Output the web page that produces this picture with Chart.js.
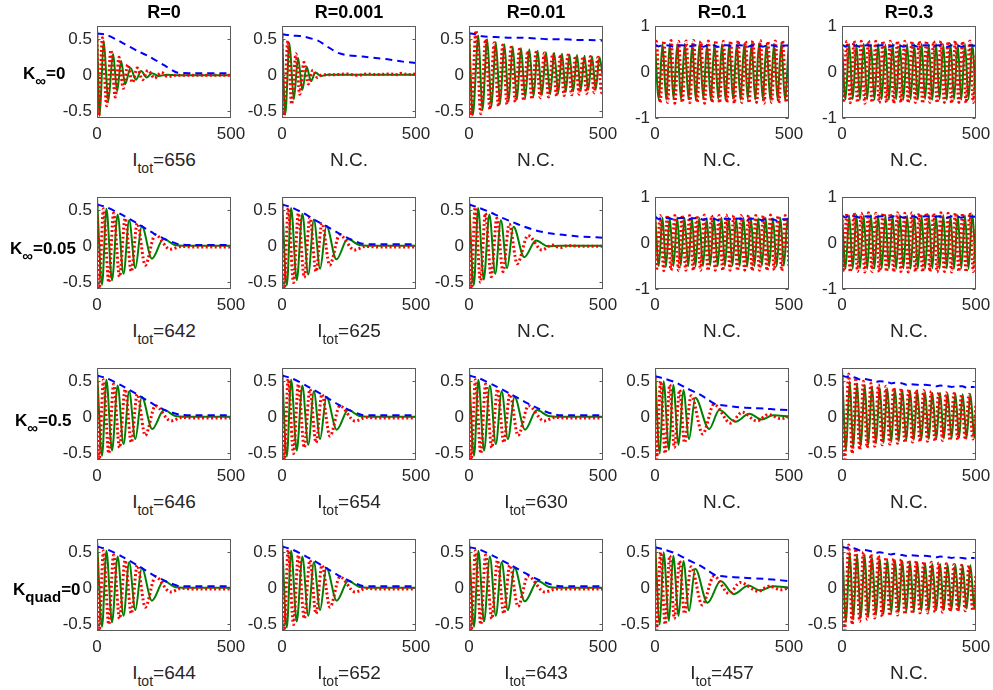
<!DOCTYPE html>
<html>
<head>
<meta charset="utf-8">
<script src="https://cdn.jsdelivr.net/npm/chart.js@4.4.0/dist/chart.umd.min.js"></script>
<style>
body{margin:0;background:#fff;width:993px;height:690px;position:relative;overflow:hidden;font-family:"Liberation Sans",Arial,sans-serif;color:#262626}
.txt{position:absolute;white-space:nowrap;line-height:24px;height:24px}
.ttl{font-weight:bold;font-size:18px;color:#000;transform:translateX(-50%)}
.row{font-weight:bold;font-size:17px;color:#000}
.row span{font-size:15px;position:relative;top:7px}
.bot{font-size:19px;transform:translateX(-50%)}
.bot span{font-size:14px;position:relative;top:7px}
canvas{position:absolute}
</style>
</head>
<body>
<script>
// ---- labels ----
var colTitles = ['R=0','R=0.001','R=0.01','R=0.1','R=0.3'];
var rowNames = [['K','\u221e','=0'],['K','\u221e','=0.05'],['K','\u221e','=0.5'],['K','quad','=0']];
var itotLabels = [
  ['656', null, null, null, null],
  ['642', '625', null, null, null],
  ['646', '654', '630', null, null],
  ['644', '652', '643', '457', null]
];
var xTicks = [0, 500];
var yTicksSmall = [-0.5, 0, 0.5];
var yTicksWide = [-1, 0, 1];
var yRangeSmall = [-0.59, 0.68];
var yRangeWide = [-1, 1];

// ---- row 1 : K_inf = 0 ----
var blue_r1c1 = [[0,0.58],[37,0.56],[100,0.44],[150,0.34],[200,0.25],[250,0.14],[298,0.04],[350,0.03],[500,0.03]];
var green_r1c1 = [[0,0.67],[10,-0.56],[25,0.48],[42,-0.36],[60,0.3],[75,-0.22],[90,0.2],[105,-0.12],[125,0.1],[145,-0.06],[165,0.06],[185,-0.03],[205,0.03],[230,-0.01],[260,0.01],[300,0.0],[500,0.0]];
var red_r1c1 = [[0,0.55],[6,-0.59],[20,0.52],[36,-0.42],[52,0.35],[68,-0.3],[82,0.25],[98,-0.18],[115,0.15],[132,-0.1],[150,0.1],[170,-0.06],[190,0.07],[215,-0.04],[240,0.04],[265,-0.02],[290,0.0],[500,0.0]];

var blue_r1c2 = [[0,0.57],[40,0.55],[78,0.54],[134,0.48],[177,0.38],[210,0.31],[240,0.28],[301,0.26],[350,0.24],[400,0.22],[450,0.19],[500,0.17]];
var green_r1c2 = [[0,0.67],[12,-0.54],[28,0.44],[44,-0.33],[60,0.24],[76,-0.2],[92,0.12],[108,-0.08],[125,0.04],[145,-0.01],[170,0.01],[500,0.01]];
var red_r1c2 = [[0,0.55],[6,-0.59],[22,0.48],[36,-0.4],[52,0.3],[66,-0.26],[82,0.18],[98,-0.12],[115,0.07],[132,-0.03],[150,0.01],[200,0.01],[240,0.02],[280,0.0],[320,0.02],[350,0.01],[400,0.02],[430,0.01],[445,0.03],[470,0.01],[500,0.02]];

var blue_r1c3 = [[0,0.58],[20,0.57],[50,0.54],[100,0.53],[150,0.52],[200,0.52],[250,0.51],[300,0.5],[350,0.5],[400,0.49],[450,0.49],[500,0.48]];
var green_r1c3 = [[0,0.67],[14,-0.55],[35,0.55],[50,-0.48],[68,0.5],[84,-0.43],[100,0.46],[116,-0.39],[132,0.43],[148,-0.36],[163,0.4],[179,-0.33],[194,0.38],[210,-0.31],[225,0.36],[241,-0.29],[256,0.34],[272,-0.27],[287,0.32],[303,-0.26],[318,0.31],[333,-0.24],[347,0.3],[361,-0.23],[375,0.29],[389,-0.22],[403,0.28],[417,-0.21],[431,0.27],[445,-0.2],[459,0.26],[473,-0.19],[487,0.25],[500,-0.05]];
var red_r1c3 = [[0,0.55],[8,-0.59],[26,0.62],[44,-0.53],[62,0.5],[78,-0.47],[94,0.45],[110,-0.43],[126,0.42],[142,-0.4],[157,0.39],[173,-0.37],[188,0.36],[204,-0.35],[219,0.34],[235,-0.33],[250,0.32],[266,-0.31],[281,0.31],[297,-0.3],[312,0.3],[327,-0.29],[341,0.29],[355,-0.28],[369,0.28],[383,-0.27],[397,0.27],[411,-0.26],[425,0.26],[439,-0.25],[453,0.26],[467,-0.24],[481,0.25],[495,-0.24],[500,-0.1]];

var blue_r1c4 = [[0,0.6],[14,0.56],[28,0.59],[55,0.58],[69,0.55],[83,0.58],[111,0.58],[125,0.55],[139,0.58],[166,0.58],[180,0.55],[194,0.58],[222,0.58],[236,0.55],[250,0.58],[277,0.58],[291,0.55],[305,0.58],[333,0.58],[346,0.55],[360,0.58],[388,0.58],[402,0.55],[416,0.58],[444,0.58],[457,0.55],[471,0.58],[500,0.58]];
var green_r1c4 = [[0,0.63],[14,-0.59],[28,0.61],[42,-0.6],[55,0.62],[69,-0.58],[83,0.6],[97,-0.6],[111,0.62],[125,-0.59],[139,0.61],[152,-0.6],[166,0.62],[180,-0.58],[194,0.6],[208,-0.6],[222,0.62],[236,-0.59],[250,0.61],[263,-0.6],[277,0.62],[291,-0.58],[305,0.6],[319,-0.6],[333,0.62],[346,-0.59],[360,0.61],[374,-0.6],[388,0.62],[402,-0.58],[416,0.6],[430,-0.6],[444,0.62],[457,-0.59],[471,0.61],[485,-0.6],[499,0.62]];
var red_r1c4 = [[0,0.56],[5,0.67],[19,-0.67],[33,0.68],[47,-0.66],[60,0.69],[74,-0.68],[88,0.67],[102,-0.66],[116,0.68],[130,-0.67],[144,0.69],[157,-0.66],[171,0.67],[185,-0.68],[199,0.68],[213,-0.66],[227,0.69],[241,-0.67],[255,0.67],[268,-0.66],[282,0.68],[296,-0.68],[310,0.69],[324,-0.66],[338,0.67],[351,-0.67],[365,0.68],[379,-0.66],[393,0.69],[407,-0.68],[421,0.67],[435,-0.66],[449,0.68],[462,-0.67],[476,0.69],[490,-0.66],[500,0.3]];

var blue_r1c5 = [[0,0.6],[13,0.56],[27,0.59],[54,0.58],[67,0.55],[81,0.58],[108,0.58],[121,0.55],[135,0.58],[162,0.58],[175,0.55],[189,0.58],[216,0.58],[229,0.55],[243,0.58],[270,0.58],[283,0.55],[297,0.58],[324,0.58],[337,0.55],[351,0.58],[378,0.58],[391,0.55],[405,0.58],[432,0.58],[445,0.55],[459,0.58],[486,0.58],[500,0.57]];
var green_r1c5 = [[0,0.6],[13,-0.6],[27,0.61],[40,-0.59],[54,0.6],[67,-0.6],[81,0.62],[94,-0.59],[108,0.6],[121,-0.6],[135,0.61],[148,-0.59],[162,0.6],[175,-0.6],[189,0.62],[202,-0.59],[216,0.6],[229,-0.6],[243,0.61],[256,-0.59],[270,0.6],[283,-0.6],[297,0.62],[310,-0.59],[324,0.6],[337,-0.6],[351,0.61],[364,-0.59],[378,0.6],[391,-0.6],[405,0.62],[418,-0.59],[432,0.6],[445,-0.6],[459,0.61],[472,-0.59],[486,0.6],[499,-0.6]];
var red_r1c5 = [[0,0.5],[4,-0.66],[18,0.67],[31,-0.67],[45,0.68],[58,-0.66],[72,0.67],[85,-0.68],[99,0.68],[112,-0.66],[126,0.67],[139,-0.67],[153,0.68],[166,-0.66],[180,0.67],[193,-0.68],[207,0.68],[220,-0.66],[234,0.67],[247,-0.67],[261,0.68],[274,-0.66],[288,0.67],[301,-0.68],[315,0.68],[328,-0.66],[342,0.67],[355,-0.67],[369,0.68],[382,-0.66],[396,0.67],[409,-0.68],[423,0.68],[436,-0.66],[450,0.67],[463,-0.67],[477,0.68],[490,-0.66],[500,0.4]];

// ---- row 2 : K_inf = 0.05 ----
var blue_r2c1 = [[0,0.58],[37,0.54],[87,0.45],[149,0.32],[211,0.18],[260,0.09],[304,0.03],[350,0.02],[500,0.02]];
var green_r2c1 = [[0,0.67],[19,-0.53],[35,0.52],[56,-0.47],[77,0.44],[99,-0.38],[120,0.36],[143,-0.3],[167,0.28],[205,-0.17],[248,0.1],[290,0.02],[330,0.01],[500,0.01]];
var red_r2c1 = [[0,0.56],[8,-0.59],[24,0.52],[44,-0.5],[62,0.46],[84,-0.42],[105,0.39],[128,-0.35],[150,0.32],[180,-0.26],[217,0.16],[273,-0.04],[316,0.0],[360,-0.01],[500,-0.01]];

var blue_r2c2 = [[0,0.58],[35,0.54],[80,0.46],[125,0.36],[170,0.27],[212,0.18],[255,0.1],[295,0.04],[330,0.03],[500,0.03]];
var green_r2c2 = [[0,0.67],[18,-0.54],[34,0.53],[55,-0.47],[76,0.45],[98,-0.39],[119,0.37],[142,-0.31],[166,0.28],[203,-0.18],[245,0.1],[288,0.02],[330,0.01],[500,0.01]];
var red_r2c2 = [[0,0.56],[8,-0.59],[23,0.53],[43,-0.5],[61,0.46],[83,-0.43],[104,0.4],[127,-0.35],[149,0.32],[178,-0.26],[215,0.16],[270,-0.05],[312,0.0],[360,-0.01],[500,-0.01]];

var blue_r2c3 = [[0,0.58],[40,0.53],[80,0.47],[120,0.4],[160,0.34],[200,0.28],[250,0.22],[300,0.18],[350,0.16],[400,0.14],[450,0.13],[500,0.12]];
var green_r2c3 = [[0,0.67],[18,-0.54],[34,0.53],[55,-0.46],[76,0.44],[98,-0.38],[119,0.36],[142,-0.3],[166,0.27],[206,-0.15],[250,0.08],[295,0.0],[340,0.01],[500,0.01]];
var red_r2c3 = [[0,0.56],[8,-0.59],[23,0.54],[43,-0.5],[61,0.46],[83,-0.42],[104,0.39],[127,-0.35],[150,0.31],[180,-0.24],[220,0.15],[272,-0.05],[310,0.02],[340,-0.02],[370,0.01],[420,0.0],[500,0.0]];

var blue_r2c4 = [[0,0.58],[14,0.52],[28,0.55],[55,0.54],[69,0.51],[83,0.54],[110,0.54],[124,0.51],[138,0.54],[165,0.54],[179,0.51],[193,0.53],[220,0.53],[234,0.5],[248,0.53],[275,0.53],[289,0.5],[303,0.53],[330,0.53],[344,0.5],[358,0.53],[385,0.52],[399,0.5],[413,0.52],[440,0.52],[454,0.49],[468,0.52],[500,0.52]];
var green_r2c4 = [[0,0.67],[14,-0.5],[28,0.56],[41,-0.51],[55,0.55],[69,-0.5],[83,0.56],[96,-0.49],[110,0.55],[124,-0.5],[138,0.56],[151,-0.51],[165,0.55],[179,-0.5],[193,0.54],[206,-0.49],[220,0.55],[234,-0.5],[248,0.56],[261,-0.5],[275,0.55],[289,-0.49],[303,0.54],[316,-0.5],[330,0.55],[344,-0.51],[358,0.55],[371,-0.5],[385,0.54],[399,-0.49],[413,0.55],[426,-0.5],[440,0.54],[454,-0.5],[468,0.55],[481,-0.49],[495,0.54],[500,0.3]];
var red_r2c4 = [[0,0.55],[5,-0.6],[19,0.6],[33,-0.6],[46,0.61],[60,-0.59],[74,0.6],[88,-0.6],[101,0.61],[115,-0.59],[129,0.6],[143,-0.6],[156,0.6],[170,-0.59],[184,0.61],[198,-0.6],[211,0.6],[225,-0.59],[239,0.6],[253,-0.6],[266,0.61],[280,-0.59],[294,0.6],[308,-0.6],[321,0.6],[335,-0.59],[349,0.61],[363,-0.6],[376,0.6],[390,-0.59],[404,0.6],[418,-0.6],[431,0.61],[445,-0.59],[459,0.6],[473,-0.6],[486,0.6],[500,-0.5]];

var blue_r2c5 = [[0,0.6],[13,0.56],[27,0.59],[54,0.58],[67,0.55],[81,0.58],[108,0.58],[121,0.55],[135,0.58],[162,0.58],[175,0.55],[189,0.58],[216,0.58],[229,0.55],[243,0.58],[270,0.58],[283,0.55],[297,0.58],[324,0.58],[337,0.55],[351,0.58],[378,0.58],[391,0.55],[405,0.58],[432,0.58],[445,0.55],[459,0.58],[486,0.58],[500,0.57]];
var green_r2c5 = [[0,0.67],[13,-0.56],[27,0.6],[40,-0.56],[54,0.61],[67,-0.55],[81,0.6],[94,-0.56],[108,0.61],[121,-0.55],[135,0.6],[148,-0.56],[162,0.61],[175,-0.55],[189,0.6],[202,-0.56],[216,0.61],[229,-0.55],[243,0.6],[256,-0.56],[270,0.61],[283,-0.55],[297,0.6],[310,-0.56],[324,0.61],[337,-0.55],[351,0.6],[364,-0.56],[378,0.61],[391,-0.55],[405,0.6],[418,-0.56],[432,0.61],[445,-0.55],[459,0.6],[472,-0.56],[486,0.61],[499,-0.55]];
var red_r2c5 = [[0,0.5],[4,-0.63],[18,0.65],[31,-0.63],[45,0.66],[58,-0.62],[72,0.65],[85,-0.63],[99,0.66],[112,-0.62],[126,0.65],[139,-0.63],[153,0.66],[166,-0.62],[180,0.65],[193,-0.63],[207,0.66],[220,-0.62],[234,0.65],[247,-0.63],[261,0.66],[274,-0.62],[288,0.65],[301,-0.63],[315,0.66],[328,-0.62],[342,0.65],[355,-0.63],[369,0.66],[382,-0.62],[396,0.65],[409,-0.63],[423,0.66],[436,-0.62],[450,0.65],[463,-0.63],[477,0.66],[490,-0.62],[500,0.3]];

// ---- row 3 : K_inf = 0.5 ----
var blue_r3c1 = [[0,0.58],[37,0.54],[87,0.45],[149,0.32],[211,0.18],[260,0.09],[306,0.04],[350,0.03],[500,0.03]];
var green_r3c1 = [[0,0.67],[19,-0.53],[35,0.52],[56,-0.46],[77,0.44],[99,-0.37],[120,0.36],[143,-0.3],[167,0.28],[206,-0.16],[250,0.1],[292,0.02],[330,0.01],[500,0.01]];
var red_r3c1 = [[0,0.56],[8,-0.59],[24,0.52],[44,-0.5],[62,0.46],[84,-0.42],[105,0.39],[128,-0.35],[150,0.32],[180,-0.25],[218,0.16],[275,-0.05],[318,0.0],[360,-0.01],[500,-0.01]];

var blue_r3c2 = [[0,0.58],[36,0.54],[85,0.45],[147,0.32],[209,0.18],[258,0.09],[302,0.03],[350,0.03],[500,0.03]];
var green_r3c2 = [[0,0.67],[18,-0.54],[34,0.52],[55,-0.46],[76,0.44],[98,-0.38],[119,0.36],[142,-0.3],[166,0.28],[204,-0.17],[247,0.1],[288,0.02],[330,0.01],[500,0.01]];
var red_r3c2 = [[0,0.56],[8,-0.59],[23,0.53],[43,-0.5],[61,0.46],[83,-0.42],[104,0.39],[127,-0.35],[149,0.32],[179,-0.26],[216,0.16],[272,-0.05],[315,0.0],[360,-0.01],[500,-0.01]];

var blue_r3c3 = [[0,0.58],[38,0.54],[90,0.45],[152,0.33],[215,0.2],[265,0.11],[310,0.05],[340,0.03],[500,0.03]];
var green_r3c3 = [[0,0.67],[19,-0.53],[35,0.52],[56,-0.46],[78,0.44],[100,-0.37],[122,0.36],[145,-0.3],[170,0.28],[209,-0.17],[253,0.1],[296,0.02],[335,0.01],[500,0.01]];
var red_r3c3 = [[0,0.56],[8,-0.59],[24,0.52],[44,-0.5],[62,0.46],[85,-0.42],[106,0.39],[130,-0.35],[152,0.32],[183,-0.25],[222,0.16],[280,-0.05],[322,0.0],[360,-0.01],[500,-0.01]];

var blue_r3c4 = [[0,0.57],[40,0.53],[80,0.48],[120,0.4],[165,0.32],[200,0.24],[227,0.18],[270,0.16],[312,0.14],[360,0.13],[410,0.12],[450,0.11],[496,0.1]];
var green_r3c4 = [[0,0.67],[18,-0.5],[32,0.5],[52,-0.45],[68,0.45],[88,-0.38],[106,0.38],[127,-0.3],[150,0.27],[202,-0.16],[240,0.1],[300,-0.06],[352,0.05],[398,-0.03],[441,0.03],[500,0.01]];
var red_r3c4 = [[0,0.55],[6,-0.58],[21,0.5],[38,-0.5],[55,0.45],[72,-0.42],[92,0.38],[110,-0.35],[135,0.3],[178,-0.23],[220,0.18],[282,-0.08],[325,0.07],[380,-0.05],[423,0.04],[470,-0.02],[500,0.01]];

var blue_r3c5 = [[0,0.58],[15,0.56],[29,0.57],[56,0.54],[70,0.52],[85,0.53],[112,0.51],[127,0.49],[141,0.5],[169,0.49],[184,0.47],[198,0.48],[225,0.47],[240,0.45],[254,0.46],[281,0.45],[296,0.44],[310,0.45],[337,0.44],[352,0.43],[366,0.44],[394,0.43],[409,0.42],[423,0.43],[450,0.43],[465,0.41],[479,0.42],[495,0.42]];
var green_r3c5 = [[0,0.68],[15,-0.45],[29,0.5],[42,-0.42],[56,0.47],[70,-0.4],[85,0.45],[98,-0.38],[112,0.43],[127,-0.36],[141,0.41],[155,-0.35],[169,0.4],[184,-0.34],[198,0.39],[212,-0.33],[225,0.38],[240,-0.32],[254,0.37],[268,-0.31],[281,0.36],[296,-0.31],[310,0.35],[324,-0.3],[337,0.34],[352,-0.3],[366,0.34],[380,-0.29],[394,0.33],[409,-0.29],[423,0.33],[437,-0.28],[450,0.32],[465,-0.28],[479,0.32],[494,-0.28],[500,0.1]];
var red_r3c5 = [[0,0.55],[10,-0.58],[25,0.6],[38,-0.5],[52,0.55],[66,-0.45],[80,0.5],[94,-0.42],[108,0.47],[122,-0.4],[136,0.45],[150,-0.38],[164,0.43],[178,-0.37],[193,0.41],[207,-0.36],[221,0.4],[235,-0.35],[249,0.39],[263,-0.34],[277,0.38],[291,-0.34],[305,0.37],[319,-0.33],[333,0.36],[347,-0.33],[361,0.35],[375,-0.32],[389,0.34],[403,-0.32],[418,0.33],[432,-0.31],[446,0.32],[460,-0.31],[474,0.32],[488,-0.3],[500,0.2]];

// ---- row 4 : K_quad = 0 ----
var blue_r4c1 = [[0,0.58],[37,0.54],[88,0.45],[150,0.32],[212,0.18],[262,0.09],[306,0.03],[350,0.03],[500,0.03]];
var green_r4c1 = [[0,0.67],[19,-0.53],[35,0.52],[56,-0.47],[77,0.44],[99,-0.38],[120,0.36],[143,-0.3],[167,0.28],[205,-0.17],[249,0.1],[290,0.02],[330,0.01],[500,0.01]];
var red_r4c1 = [[0,0.56],[8,-0.59],[24,0.52],[44,-0.5],[62,0.46],[84,-0.42],[105,0.39],[128,-0.35],[150,0.32],[180,-0.26],[218,0.16],[274,-0.05],[316,0.0],[360,-0.01],[500,-0.01]];

var blue_r4c2 = [[0,0.58],[36,0.54],[86,0.45],[148,0.32],[210,0.18],[259,0.09],[303,0.03],[350,0.03],[500,0.03]];
var green_r4c2 = [[0,0.67],[18,-0.54],[34,0.52],[55,-0.46],[76,0.44],[98,-0.38],[119,0.36],[142,-0.3],[166,0.28],[204,-0.17],[247,0.1],[289,0.02],[330,0.01],[500,0.01]];
var red_r4c2 = [[0,0.56],[8,-0.59],[23,0.53],[43,-0.5],[61,0.46],[83,-0.42],[104,0.39],[127,-0.35],[149,0.32],[179,-0.26],[216,0.16],[272,-0.05],[315,0.0],[360,-0.01],[500,-0.01]];

var blue_r4c3 = [[0,0.57],[38,0.54],[90,0.45],[152,0.33],[215,0.2],[265,0.11],[310,0.05],[340,0.03],[500,0.03]];
var green_r4c3 = [[0,0.67],[19,-0.53],[35,0.52],[56,-0.46],[78,0.44],[100,-0.38],[122,0.36],[145,-0.3],[170,0.28],[208,-0.18],[257,0.1],[298,0.02],[335,0.01],[500,0.01]];
var red_r4c3 = [[0,0.56],[8,-0.59],[24,0.52],[44,-0.5],[62,0.46],[85,-0.42],[106,0.39],[130,-0.35],[152,0.32],[183,-0.25],[220,0.17],[282,-0.05],[326,-0.01],[360,-0.01],[500,-0.01]];

var blue_r4c4 = [[0,0.57],[40,0.53],[80,0.48],[120,0.4],[165,0.32],[200,0.24],[227,0.18],[270,0.16],[320,0.15],[410,0.13],[450,0.12],[496,0.1]];
var green_r4c4 = [[0,0.67],[18,-0.5],[32,0.5],[52,-0.45],[68,0.45],[88,-0.38],[106,0.38],[127,-0.31],[150,0.27],[196,-0.2],[245,0.1],[294,-0.08],[349,0.04],[392,-0.03],[440,0.03],[500,0.01]];
var red_r4c4 = [[0,0.55],[6,-0.58],[21,0.5],[38,-0.5],[55,0.45],[72,-0.42],[92,0.38],[110,-0.35],[135,0.3],[176,-0.23],[220,0.17],[276,-0.07],[318,0.08],[385,-0.04],[425,0.03],[470,-0.02],[500,0.01]];

var blue_r4c5 = [[0,0.58],[15,0.56],[29,0.57],[56,0.54],[70,0.52],[85,0.53],[112,0.51],[127,0.49],[141,0.5],[169,0.48],[184,0.47],[198,0.48],[225,0.46],[240,0.45],[254,0.46],[281,0.45],[296,0.44],[310,0.45],[337,0.44],[352,0.43],[366,0.44],[394,0.43],[409,0.42],[423,0.43],[450,0.42],[465,0.41],[479,0.42],[495,0.42]];
var green_r4c5 = [[0,0.68],[15,-0.46],[29,0.5],[42,-0.43],[56,0.47],[70,-0.41],[85,0.45],[98,-0.39],[112,0.43],[127,-0.37],[141,0.41],[155,-0.35],[169,0.4],[184,-0.34],[198,0.39],[212,-0.33],[225,0.38],[240,-0.32],[254,0.37],[268,-0.32],[281,0.36],[296,-0.31],[310,0.35],[324,-0.31],[337,0.34],[352,-0.3],[366,0.34],[380,-0.3],[394,0.33],[409,-0.29],[423,0.33],[437,-0.29],[450,0.32],[465,-0.28],[479,0.32],[494,-0.28],[500,0.1]];
var red_r4c5 = [[0,0.55],[10,-0.58],[25,0.6],[38,-0.5],[52,0.55],[66,-0.46],[80,0.5],[94,-0.43],[108,0.47],[122,-0.41],[136,0.45],[150,-0.39],[164,0.43],[178,-0.38],[193,0.41],[207,-0.37],[221,0.4],[235,-0.36],[249,0.39],[263,-0.35],[277,0.38],[291,-0.34],[305,0.37],[319,-0.34],[333,0.36],[347,-0.33],[361,0.35],[375,-0.33],[389,0.34],[403,-0.32],[418,0.33],[432,-0.32],[446,0.32],[460,-0.31],[474,0.32],[488,-0.31],[500,0.2]];

// table of panels built from the arrays above: [blue, green, red]
var panelData = [
  [[blue_r1c1,green_r1c1,red_r1c1],[blue_r1c2,green_r1c2,red_r1c2],[blue_r1c3,green_r1c3,red_r1c3],[blue_r1c4,green_r1c4,red_r1c4],[blue_r1c5,green_r1c5,red_r1c5]],
  [[blue_r2c1,green_r2c1,red_r2c1],[blue_r2c2,green_r2c2,red_r2c2],[blue_r2c3,green_r2c3,red_r2c3],[blue_r2c4,green_r2c4,red_r2c4],[blue_r2c5,green_r2c5,red_r2c5]],
  [[blue_r3c1,green_r3c1,red_r3c1],[blue_r3c2,green_r3c2,red_r3c2],[blue_r3c3,green_r3c3,red_r3c3],[blue_r3c4,green_r3c4,red_r3c4],[blue_r3c5,green_r3c5,red_r3c5]],
  [[blue_r4c1,green_r4c1,red_r4c1],[blue_r4c2,green_r4c2,red_r4c2],[blue_r4c3,green_r4c3,red_r4c3],[blue_r4c4,green_r4c4,red_r4c4],[blue_r4c5,green_r4c5,red_r4c5]]
];
var wideRange = [[0,0,0,1,1],[0,0,0,1,1],[0,0,0,0,0],[0,0,0,0,0]];

// ---- layout ----
var boxLeft = [97, 282, 469, 655, 842];
var boxTop = [23, 194, 365, 536];
var boxW = 134, boxH = 95;
var padL = 50, padT = 12, padR = 26, padB = 30;
var rowLabelX = [23, 10, 15, 13];
var rowLabelY = [74, 249, 421, 590];
var fontFam = "'Liberation Sans', Arial, sans-serif";

function addText(html, cls, x, y) {
  var d = document.createElement('div');
  d.className = 'txt ' + cls;
  d.innerHTML = html;
  d.style.left = x + 'px';
  d.style.top = (y - 12) + 'px';
  document.body.appendChild(d);
}

var boxPlugin = {
  id: 'matlabBox',
  afterDatasetsDraw: function(chart) {
    var a = chart.chartArea, c = chart.ctx;
    var l = Math.round(a.left) + 0.5, t = Math.round(a.top) + 0.5;
    var r = Math.round(a.right) - 0.5, b = Math.round(a.bottom) - 0.5;
    c.save();
    c.strokeStyle = '#5a5a5a';
    c.lineWidth = 1;
    c.strokeRect(l, t, r - l, b - t);
    var ys = chart.scales.y;
    ys.ticks.forEach(function(tk) {
      var py = Math.round(ys.getPixelForValue(tk.value)) + 0.5;
      c.beginPath();
      c.moveTo(l, py); c.lineTo(l + 3, py);
      c.moveTo(r, py); c.lineTo(r - 3, py);
      c.stroke();
    });
    c.restore();
  }
};

function makePanel(ri, ci) {
  var cv = document.createElement('canvas');
  cv.width = boxW + padL + padR;
  cv.height = boxH + padT + padB;
  cv.style.left = (boxLeft[ci] - padL) + 'px';
  cv.style.top = (boxTop[ri] - padT) + 'px';
  document.body.appendChild(cv);

  var d = panelData[ri][ci];
  var wide = wideRange[ri][ci] === 1;
  var yr = wide ? yRangeWide : yRangeSmall;
  var yt = wide ? yTicksWide : yTicksSmall;

  new Chart(cv, {
    type: 'line',
    data: {
      datasets: [
        {data: d[0], borderColor: '#0000ff', borderWidth: 2, borderDash: [7, 5], pointRadius: 0, tension: 0.2, order: 0},
        {data: d[2], borderColor: '#ff0000', borderWidth: 3, borderDash: [2, 2.5], pointRadius: 0, cubicInterpolationMode: 'monotone', order: 1},
        {data: d[1], borderColor: '#008000', borderWidth: 2, pointRadius: 0, cubicInterpolationMode: 'monotone', order: 2}
      ]
    },
    options: {
      responsive: false,
      animation: false,
      devicePixelRatio: 1,
      layout: {padding: {top: padT, right: padR, left: 0, bottom: 0}},
      plugins: {legend: {display: false}, tooltip: {enabled: false}},
      scales: {
        x: {
          type: 'linear', min: 0, max: 500,
          grid: {display: false, drawTicks: false},
          border: {display: false},
          afterBuildTicks: function(s) { s.ticks = xTicks.map(function(v) { return {value: v}; }); },
          afterFit: function(s) { s.height = padB; },
          ticks: {padding: 6, autoSkip: false, maxRotation: 0, color: '#262626', font: {size: 17, family: fontFam}}
        },
        y: {
          type: 'linear', min: yr[0], max: yr[1],
          grid: {display: false, drawTicks: false},
          border: {display: false},
          afterBuildTicks: function(s) { s.ticks = yt.map(function(v) { return {value: v}; }); },
          afterFit: function(s) { s.width = padL; },
          ticks: {padding: 5, autoSkip: false, color: '#262626', font: {size: 17, family: fontFam}}
        }
      }
    },
    plugins: [boxPlugin]
  });
}

for (var ri = 0; ri < 4; ri++) {
  for (var ci = 0; ci < 5; ci++) {
    makePanel(ri, ci);
    var lab = itotLabels[ri][ci];
    var html = lab === null ? 'N.C.' : 'I<span>tot</span>=' + lab;
    addText(html, 'bot', boxLeft[ci] + boxW / 2, boxTop[ri] + boxH + 42);
  }
  var rn = rowNames[ri];
  addText(rn[0] + '<span>' + rn[1] + '</span>' + rn[2], 'row', rowLabelX[ri], rowLabelY[ri]);
}
for (var k = 0; k < colTitles.length; k++) {
  addText(colTitles[k], 'ttl', boxLeft[k] + boxW / 2, 12);
}
</script>
</body>
</html>
